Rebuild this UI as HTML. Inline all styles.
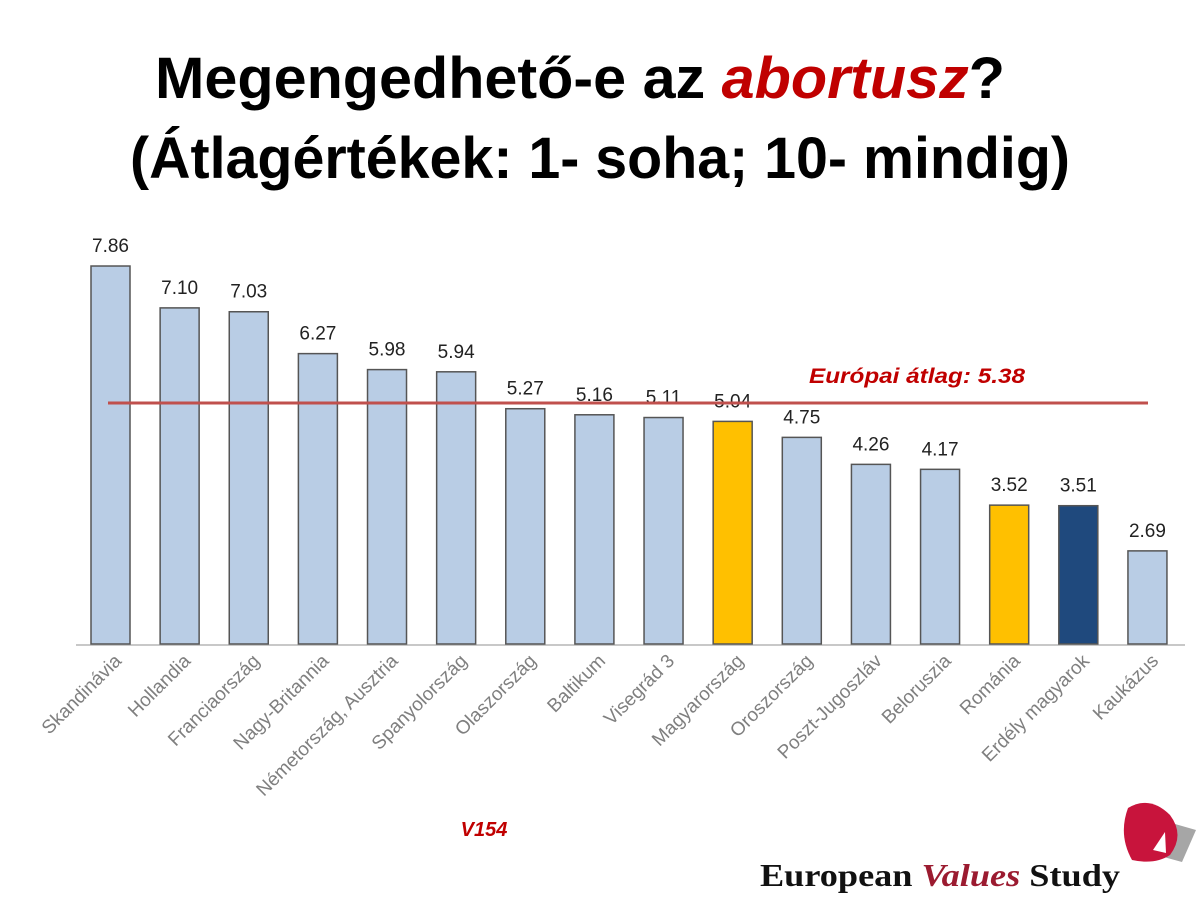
<!DOCTYPE html>
<html><head><meta charset="utf-8"><style>
body{margin:0;background:#fff;}
svg{display:block}
</style></head><body>
<svg width="1200" height="900" xmlns="http://www.w3.org/2000/svg">
<g font-family="Liberation Sans, sans-serif" font-weight="bold" font-size="58" text-anchor="middle" fill="#000">
<text x="580" y="98" textLength="850" lengthAdjust="spacingAndGlyphs">Megengedhető-e az <tspan fill="#c00000" font-style="italic">abortusz</tspan>?</text>
<text x="600" y="178" textLength="940" lengthAdjust="spacingAndGlyphs">(Átlagértékek: 1- soha; 10- mindig)</text>
</g>
<line x1="76" y1="645" x2="1185" y2="645" stroke="#c8c8c8" stroke-width="2"/>
<g id="bars" stroke="#555" stroke-width="1.5" font-family="Liberation Sans, sans-serif" font-size="19" fill="#222">
</g>
<line x1="108" y1="403" x2="1148" y2="403" stroke="#c0504d" stroke-width="3"/>
<text x="917" y="383" font-family="Liberation Sans, sans-serif" font-weight="bold" font-style="italic" font-size="21" fill="#c00000" text-anchor="middle" textLength="216" lengthAdjust="spacingAndGlyphs">Európai átlag: 5.38</text>
<text x="484" y="836" font-family="Liberation Sans, sans-serif" font-weight="bold" font-style="italic" font-size="20" fill="#c00000" text-anchor="middle">V154</text>
<text x="940" y="886" font-family="Liberation Serif, serif" font-weight="bold" font-size="32" fill="#111" text-anchor="middle" textLength="360" lengthAdjust="spacingAndGlyphs">European <tspan fill="#9b1b30" font-style="italic">Values</tspan> Study</text>
<path d="M1168 822 L1196 830 L1182 862 L1160 856 Z" fill="#a6a6a6"/>
<path d="M1128 808 Q1150 795 1170 815 Q1185 835 1170 855 Q1155 865 1132 860 Q1118 835 1128 808 Z" fill="#c8143c"/>
<path d="M1165 832 L1153 850 L1166 853 Z" fill="#fff"/>
</svg>
<script>
var d=[["Skandinávia",7.86,"#b9cde5"],["Hollandia",7.10,"#b9cde5"],["Franciaország",7.03,"#b9cde5"],["Nagy-Britannia",6.27,"#b9cde5"],["Németország, Ausztria",5.98,"#b9cde5"],["Spanyolország",5.94,"#b9cde5"],["Olaszország",5.27,"#b9cde5"],["Baltikum",5.16,"#b9cde5"],["Visegrád 3",5.11,"#b9cde5"],["Magyarország",5.04,"#ffc000"],["Oroszország",4.75,"#b9cde5"],["Poszt-Jugoszláv",4.26,"#b9cde5"],["Beloruszia",4.17,"#b9cde5"],["Románia",3.52,"#ffc000"],["Erdély magyarok",3.51,"#1f497d"],["Kaukázus",2.69,"#b9cde5"]];
var g=document.getElementById("bars"),h="";
d.forEach(function(e,i){var c=110.5+i*69.13,t=644-55.1*(e[1]-1);
h+='<rect x="'+(c-19.5)+'" y="'+t+'" width="39" height="'+(644-t)+'" fill="'+e[2]+'"/>';
h+='<text stroke="none" x="'+c+'" y="'+(t-14)+'" text-anchor="middle">'+e[1].toFixed(2)+'</text>';
h+='<text stroke="none" fill="#7f7f7f" font-size="19" text-anchor="end" transform="translate('+(c+12)+',662) rotate(-45)">'+e[0]+'</text>';});
g.innerHTML=h;
</script>
</body></html>
